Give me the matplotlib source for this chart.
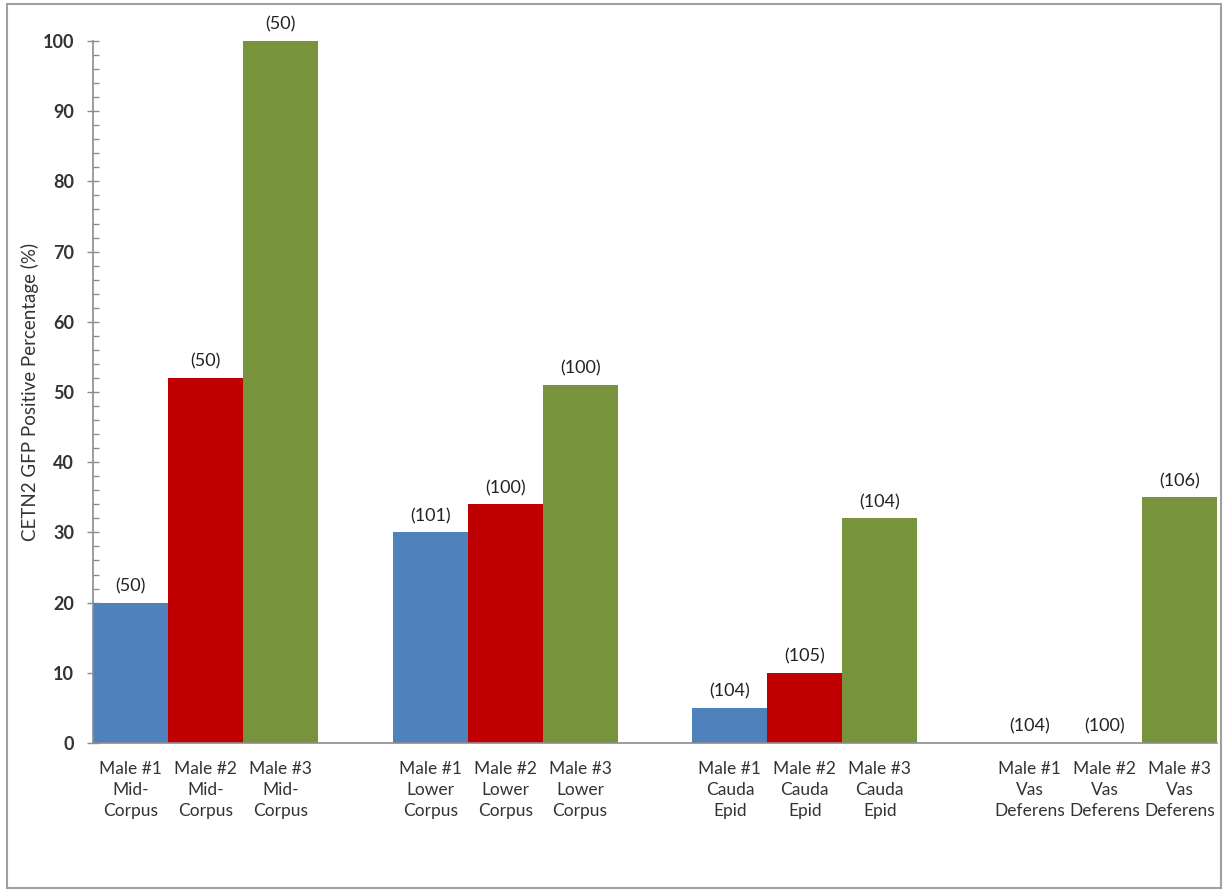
import matplotlib
matplotlib.use('Agg')
import matplotlib.pyplot as plt
import matplotlib.ticker as mtick
from matplotlib.patches import Rectangle

plt.rcParams['font.family'] = ['Lato', 'DejaVu Sans']

# data: one slot per bar, empty slots separate the four regions
slot_labels = ['Male #1\nMid-\nCorpus', 'Male #2\nMid-\nCorpus', 'Male #3\nMid-\nCorpus', '',
               'Male #1\nLower\nCorpus', 'Male #2\nLower\nCorpus', 'Male #3\nLower\nCorpus', '',
               'Male #1\nCauda\nEpid', 'Male #2\nCauda\nEpid', 'Male #3\nCauda\nEpid', '',
               'Male #1\nVas\nDeferens', 'Male #2\nVas\nDeferens', 'Male #3\nVas\nDeferens']
male1_pos = [0, 4, 8, 12]
male2_pos = [1, 5, 9, 13]
male3_pos = [2, 6, 10, 14]
male1_vals = [20, 30, 5, 0]
male2_vals = [52, 34, 10, 0]
male3_vals = [100, 51, 32, 35]
male1_n = ['(50)', '(101)', '(104)', '(104)']
male2_n = ['(50)', '(100)', '(105)', '(100)']
male3_n = ['(50)', '(100)', '(104)', '(106)']

fig = plt.figure(figsize=(12.25, 8.9), dpi=100)
ax = fig.add_axes([93/1225, 1-743/890, 1124/1225, 702/890])

series = [(male1_pos, male1_vals, male1_n, '#4F81BD'),
          (male2_pos, male2_vals, male2_n, '#C00000'),
          (male3_pos, male3_vals, male3_n, '#77933C')]
for pos, vals, ns, col in series:
    bars = ax.bar(pos, vals, width=1.0, color=col, edgecolor='none', zorder=2)
    ax.bar_label(bars, labels=ns, padding=6, fontsize=13, color='#222222')

ax.set_xlim(-0.5, 14.5)
ax.set_ylim(0, 100)
ax.set_xticks(range(len(slot_labels)))
ax.set_xticklabels(slot_labels, fontsize=12.5, color='#333333', linespacing=1.4)
ax.tick_params(axis='x', length=0, pad=13)
ax.yaxis.set_major_locator(mtick.MultipleLocator(10))
ax.yaxis.set_minor_locator(mtick.MultipleLocator(2))
ax.tick_params(axis='y', which='major', direction='inout', length=9, width=1,
               color='#8c8c8c', labelsize=13, labelcolor='#333333', pad=9)
ax.tick_params(axis='y', which='minor', direction='in', length=4, width=1, color='#8c8c8c')
for lab in ax.get_yticklabels():
    lab.set_fontweight('bold')

for s in ['top', 'right']:
    ax.spines[s].set_visible(False)
for s in ['left', 'bottom']:
    ax.spines[s].set_color('#8c8c8c')
    ax.spines[s].set_linewidth(1.2)

ax.set_ylabel('CETN2 GFP Positive Percentage (%)', fontsize=13.5, color='#333333')
ax.yaxis.set_label_coords(-0.048, 0.5)

fig.patches.append(Rectangle((7/1225, 2/890), 1214/1225, 884/890, transform=fig.transFigure,
                             fill=False, edgecolor='#a0a0a0', linewidth=1.5))

fig.savefig('out.png', dpi=100)
